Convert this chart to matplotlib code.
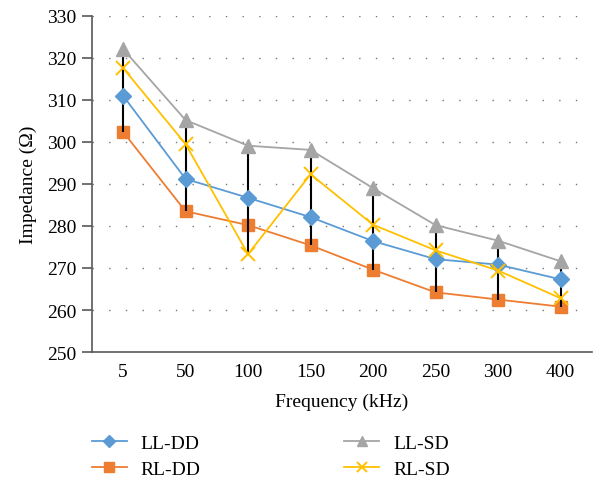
import matplotlib.pyplot as plt

plt.rcParams['font.family'] = ['Liberation Serif', 'DejaVu Serif']

freqs = ['5', '50', '100', '150', '200', '250', '300', '400']
ll_dd = [311.0, 291.2, 286.7, 282.1, 276.4, 272.1, 270.8, 267.3]
rl_dd = [302.4, 283.5, 280.2, 275.4, 269.6, 264.2, 262.5, 260.8]
ll_sd = [322.1, 305.2, 299.1, 298.1, 289.0, 280.2, 276.5, 271.6]
rl_sd = [317.6, 299.5, 273.3, 292.3, 280.3, 274.2, 269.4, 262.8]

x = list(range(len(freqs)))

fig = plt.figure(figsize=(5.96, 4.81), dpi=100)
ax = fig.add_axes([0.154, 0.266, 0.839, 0.699])

# dotted horizontal grid
ax.yaxis.grid(True, linestyle=(0, (1, 11)), color='#777777', linewidth=1.0)
ax.set_axisbelow(True)

# high-low lines
highs = [max(v) for v in zip(ll_dd, rl_dd, ll_sd, rl_sd)]
lows = [min(v) for v in zip(ll_dd, rl_dd, ll_sd, rl_sd)]

l2, = ax.plot(x, rl_dd, color='#ED7D31', marker='s', markersize=9, linewidth=1.3, zorder=2, label='RL-DD')
ax.vlines(x, lows, highs, color='black', linewidth=1.5, zorder=2.5)
l1, = ax.plot(x, ll_dd, color='#5B9BD5', marker='D', markersize=8, linewidth=1.3, zorder=3, label='LL-DD')
l3, = ax.plot(x, ll_sd, color='#A5A5A5', marker='^', markersize=10, linewidth=1.3, zorder=3, label='LL-SD')
l4, = ax.plot(x, rl_sd, color='#FFC000', marker='x', markersize=10, markeredgewidth=1.4, linewidth=1.3, zorder=3, label='RL-SD')

ax.set_xlim(-0.5, 7.5)
ax.set_ylim(250, 330)
ax.set_yticks(range(250, 331, 10))
ax.set_xticks(x)
ax.set_xticklabels(freqs)

for s in ['top', 'right']:
    ax.spines[s].set_visible(False)
ax.spines['left'].set_color('#595959')
ax.spines['bottom'].set_color('#595959')
ax.spines['left'].set_linewidth(1.2)
ax.spines['bottom'].set_linewidth(1.2)
ax.tick_params(axis='y', direction='out', length=7, width=1.2, color='#595959', labelsize=14, pad=4)
ax.tick_params(axis='x', length=0, labelsize=14, pad=8)

ax.set_ylabel('Impedance (Ω)', fontsize=14, labelpad=7)
ax.set_xlabel('Frequency (kHz)', fontsize=14, labelpad=9)

fig.legend(handles=[l1, l2, l3, l4], labels=['LL-DD', 'RL-DD', 'LL-SD', 'RL-SD'],
           ncol=2, loc='upper left', bbox_to_anchor=(0.138, 0.116), frameon=False,
           fontsize=14, handlelength=1.8, columnspacing=7.4, labelspacing=0.45,
           borderpad=0, handletextpad=0.7, markerscale=0.75)

fig.savefig('out.png', dpi=100)
